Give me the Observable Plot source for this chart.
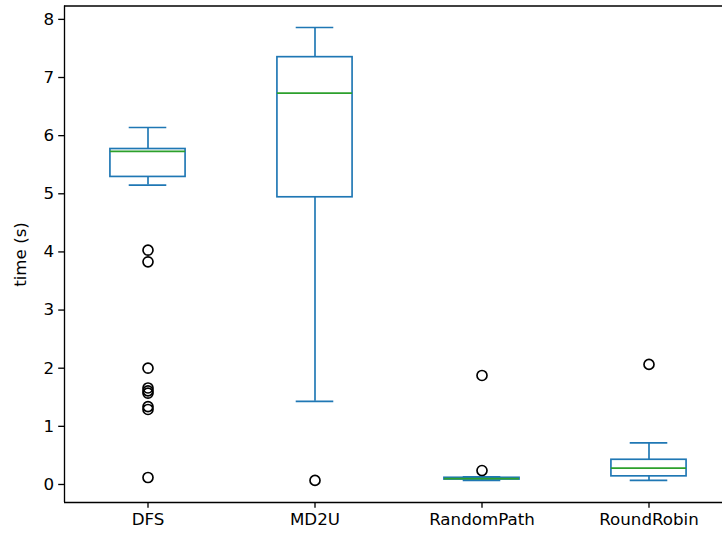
<!DOCTYPE html>
<html>
<head>
<meta charset="utf-8">
<script src="https://cdn.jsdelivr.net/npm/d3@7"></script>
<script src="https://cdn.jsdelivr.net/npm/@observablehq/plot@0.6"></script>
<style>
  html, body { margin: 0; padding: 0; background: #fff; overflow: hidden; }
  #chart svg { overflow: hidden; display: block; }
  #chart svg text { font-family: "DejaVu Sans", sans-serif !important; font-size: 16.7px !important; fill: #000; }
</style>
</head>
<body>
<div id="chart"></div>
<script>
// ---- data ----
const categories = ["DFS", "MD2U", "RandomPath", "RoundRobin"];
const whiskerLow  = [5.15, 1.43, 0.07, 0.07];
const q1          = [5.29, 4.94, 0.085, 0.14];
const medians     = [5.73, 6.73, 0.10, 0.28];
const q3          = [5.77, 7.35, 0.115, 0.425];
const whiskerHigh = [6.14, 7.86, 0.13, 0.717];
const dfsOutliers        = [4.03, 3.83, 2.0, 1.66, 1.61, 1.57, 1.34, 1.29, 0.12];
const md2uOutliers       = [0.07];
const randomPathOutliers = [1.875, 0.24];
const roundRobinOutliers = [2.065];
const yTicks = [0, 1, 2, 3, 4, 5, 6, 7, 8];
const yLabel = "time (s)";

// ---- tables built from the arrays ----
const boxes = categories.map((c, i) => ({
  pos: i + 1, name: c,
  lo: whiskerLow[i], q1: q1[i], med: medians[i], q3: q3[i], hi: whiskerHigh[i]
}));
const outlierLists = [dfsOutliers, md2uOutliers, randomPathOutliers, roundRobinOutliers];
const outliers = outlierLists.flatMap((arr, i) => arr.map(v => ({pos: i + 1, value: v})));

const blue = "#1f77b4", green = "#2ca02c";
const halfBox = 0.225, halfCap = 0.1125;
const xDom = [0.5, 4.5], yDom = [-0.31, 8.23];
const font = "DejaVu Sans, sans-serif";
const lw = 1.67;

const chart = Plot.plot({
  width: 722,
  height: 536,
  marginLeft: 64, marginRight: 0, marginTop: 6, marginBottom: 34,
  style: {fontFamily: font, fontSize: "16.7px", color: "#000", background: "#fff"},
  x: {type: "linear", domain: xDom, range: [64, 732]},
  y: {type: "linear", domain: yDom, range: [502, 5.5]},
  marks: [
    // boxes
    Plot.rect(boxes, {x1: d => d.pos - halfBox, x2: d => d.pos + halfBox, y1: "q1", y2: "q3",
      fill: "none", stroke: blue, strokeWidth: lw}),
    // whiskers
    Plot.ruleX(boxes, {x: "pos", y1: "q3", y2: "hi", stroke: blue, strokeWidth: lw}),
    Plot.ruleX(boxes, {x: "pos", y1: "lo", y2: "q1", stroke: blue, strokeWidth: lw}),
    // caps
    Plot.ruleY(boxes, {y: "hi", x1: d => d.pos - halfCap, x2: d => d.pos + halfCap, stroke: blue, strokeWidth: lw}),
    Plot.ruleY(boxes, {y: "lo", x1: d => d.pos - halfCap, x2: d => d.pos + halfCap, stroke: blue, strokeWidth: lw}),
    // medians
    Plot.ruleY(boxes, {y: "med", x1: d => d.pos - halfBox, x2: d => d.pos + halfBox, stroke: green, strokeWidth: lw}),
    // outliers
    Plot.dot(outliers, {x: "pos", y: "value", r: 5, stroke: "#000", strokeWidth: lw, fill: "none"}),
    // spines
    Plot.ruleX([xDom[0], xDom[1]], {x: d => d, y1: yDom[0], y2: yDom[1], stroke: "#000", strokeWidth: 1.33}),
    Plot.ruleY([yDom[0], yDom[1]], {y: d => d, x1: xDom[0], x2: xDom[1], stroke: "#000", strokeWidth: 1.33}),
    // axes
    Plot.axisY({ticks: yTicks, tickSize: 5.8, tickPadding: 4.5, tickFormat: d => String(d),
      label: null, stroke: "#000", strokeWidth: 1.33}),
    Plot.axisX({ticks: boxes.map(d => d.pos), tickSize: 5.8, tickPadding: 4.5,
      tickFormat: d => categories[d - 1], label: null, stroke: "#000", strokeWidth: 1.33}),
    Plot.text([yLabel], {frameAnchor: "left", dx: -44, text: d => d, rotate: -90,
      fill: "#000", textAnchor: "middle"})
  ]
});
document.getElementById("chart").appendChild(chart);
</script>
</body>
</html>
